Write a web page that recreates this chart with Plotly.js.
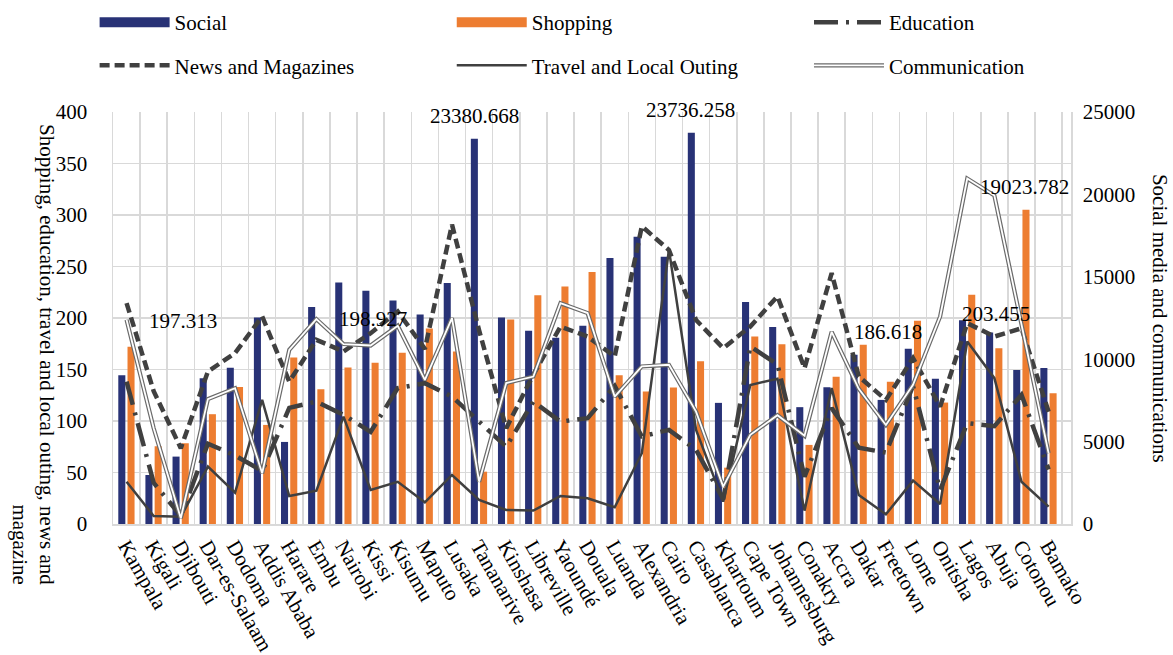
<!DOCTYPE html>
<html>
<head>
<meta charset="utf-8">
<script src="https://cdn.plot.ly/plotly-3.0.1.min.js"></script>
<style>html,body{margin:0;padding:0;background:#fff}#chart{width:1173px;height:655px}</style>
</head>
<body>
<div id="chart"></div>
<script>
const cities = ["Kampala","Kigali","Djibouti","Dar-es-Salaam","Dodoma","Addis Ababa","Harare","Embu","Nairobi","Kissi","Kisumu","Maputo","Lusaka","Tananarive","Kinshasa","Libreville","Yaoundé","Douala","Luanda","Alexandria","Cairo","Casablanca","Khartoum","Cape Town","Johannesburg","Conakry","Accra","Dakar","Freetown","Lome","Onitsha","Lagos","Abuja","Cotonou","Bamako"];

// right axis (Social media and communications)
const social = [9030, 2975, 4090, 8850, 9475, 12530, 4980, 13160, 14660, 14150, 13560, 12710, 14620, 23380.668, 12530, 11720, 11300, 12030, 16140, 17430, 16220, 23736.258, 7350, 13470, 11950, 7090, 8300, 10270, 7530, 10630, 8810, 12370, 11620, 9350, 9460];
const communication = [12390, 5810, 350, 7580, 8240, 3080, 10570, 12430, 10920, 10830, 12030, 8750, 12490, 2570, 8550, 8950, 13400, 12800, 7730, 9560, 9660, 6820, 2270, 5410, 6600, 5350, 11660, 8200, 6010, 8450, 12590, 20960, 19930, 12200, 4290];

// left axis
const shopping = [172, 75.5, 78.4, 106.6, 133.1, 96.2, 161.6, 130.9, 151.9, 156.5, 166.2, 189.8, 167.4, 50.8, 198.5, 222.2, 230.6, 244.6, 144.5, 128.6, 132.5, 158.1, 54.7, 182, 174.6, 76.8, 142.9, 174, 138, 197.3, 117.9, 222.5, 170.7, 305.2, 127];
const education = [138.3, 40, 7.8, 78, 66.5, 51.5, 112.7, 118.9, 106, 89.4, 131.9, 136.7, 123.7, 99.4, 75, 118.9, 99.4, 102.7, 134, 85, 91.4, 72, 24, 172.3, 155, 46, 112.5, 74, 69.3, 134, 33, 97.9, 95, 125.4, 53];
const news = [214.5, 129, 73.6, 148, 166, 201.5, 138.3, 178.8, 167.5, 185.3, 206.3, 170, 290.6, 188, 93, 145, 191.7, 182, 162.6, 289, 266, 198, 170.7, 191.7, 221, 151.3, 243.6, 143.2, 120.5, 161, 114, 195, 182, 190, 109];
const travel = [41, 7.8, 7.1, 55.7, 30.4, 120.5, 27.2, 32.4, 104.3, 33, 41, 21, 47.6, 23.3, 13.6, 13, 27.2, 25, 16.2, 68.7, 266.3, 91.4, 21.7, 135, 141, 13, 131.9, 28.2, 9.4, 42.1, 19.4, 177.2, 141.6, 41, 16.8];

// data labels shown on the chart
const labelTexts = ["23380.668", "23736.258", "19023.782", "197.313", "198.927", "186.618", "203.455"];
const labelCities = ["Tananarive", "Casablanca", "Cotonou", "Djibouti", "Kissi", "Freetown", "Abuja"];
const labelValues = [23380.668, 23736.258, 19023.782, 197.313, 198.927, 186.618, 203.455];
const labelAxes = ["y", "y", "y", "y2", "y2", "y2", "y2"];

const FONT = "Liberation Serif, Times New Roman, serif";
const FS = 21;
const DARK = "#404040";
const NAVY = "#283276";
const ORANGE = "#ED7D31";

const traces = [
  {type: "bar", name: "Social", x: cities, y: social, yaxis: "y",
   marker: {color: NAVY}, width: 0.26, offset: -0.305, showlegend: false},
  {type: "bar", name: "Shopping", x: cities, y: shopping, yaxis: "y2",
   marker: {color: ORANGE}, width: 0.26, offset: 0.035, showlegend: false},
  {type: "scatter", mode: "lines", name: "Education", x: cities, y: education, yaxis: "y2",
   line: {color: DARK, width: 4.5, dash: "24px,8px,3px,8px"}, legend: "legend3"},
  {type: "scatter", mode: "lines", name: "News and Magazines", x: cities, y: news, yaxis: "y2",
   line: {color: DARK, width: 4.5, dash: "10px,5px"}, legend: "legend4"},
  {type: "scatter", mode: "lines", name: "Travel and Local Outing", x: cities, y: travel, yaxis: "y2",
   line: {color: DARK, width: 2.5}, legend: "legend5"},
  {type: "scatter", mode: "lines", name: "Communication", x: cities, y: communication, yaxis: "y3",
   line: {color: "#6a6a6a", width: 4.2}, legend: "legend6"},
  {type: "scatter", mode: "lines", name: "Communication", x: cities, y: communication, yaxis: "y3",
   line: {color: "#ffffff", width: 1.8}, showlegend: false, hoverinfo: "skip"},
  // legend keys (wide swatches, as in the original)
  {type: "scatter", mode: "lines", name: "Social", x: [null], y: [null], yaxis: "y",
   line: {color: NAVY, width: 11}, legend: "legend", hoverinfo: "skip"},
  {type: "scatter", mode: "lines", name: "Shopping", x: [null], y: [null], yaxis: "y2",
   line: {color: ORANGE, width: 11}, legend: "legend2", hoverinfo: "skip"},
  {type: "scatter", mode: "lines", name: " ", x: [null], y: [null], yaxis: "y3",
   line: {color: "#ffffff", width: 1.8}, legend: "legend7", hoverinfo: "skip"}
];

const annotations = labelTexts.map((t, i) => ({
  text: t, x: labelCities[i], y: labelValues[i], xref: "x", yref: labelAxes[i],
  showarrow: false, font: {family: FONT, size: FS, color: "#000"},
  xanchor: "center", yanchor: "middle",
  yshift: labelAxes[i] === "y" ? 23 : 0,
  xshift: i === 0 ? -5 : (i === 1 ? -6 : (i === 2 ? 3 : 2))
}));
annotations.push({
  text: "Shopping, education, travel and local outing, news and<br>magazine",
  xref: "paper", yref: "paper", x: -0.0825, y: 0.41, textangle: 90, align: "right",
  showarrow: false, xanchor: "center", yanchor: "middle",
  font: {family: FONT, size: FS, color: "#000"}
});
annotations.push({
  text: "Social media and communications",
  xref: "paper", yref: "paper", x: 1.093, y: 0.5, textangle: 90,
  showarrow: false, xanchor: "center", yanchor: "middle",
  font: {family: FONT, size: FS, color: "#000"}
});

function leg(x, y) {
  return {orientation: "h", x: x, y: y, xanchor: "left", yanchor: "middle",
          itemwidth: 70, font: {family: FONT, size: FS, color: "#000"},
          bgcolor: "rgba(0,0,0,0)", borderwidth: 0};
}
const colX = [-0.0192, 0.3536, 0.7265];
const rowY = [1.2169, 1.1124];

const tickFont = {family: FONT, size: FS, color: "#000"};
const layout = {
  width: 1173, height: 655,
  margin: {l: 113, r: 102, t: 112, b: 131, autoexpand: false},
  paper_bgcolor: "#fff", plot_bgcolor: "#fff",
  font: {family: FONT, size: FS, color: "#000"},
  barmode: "overlay",
  xaxis: {type: "category", tickson: "boundaries", showgrid: true, gridcolor: "#d9d9d9", gridwidth: 1.5,
          showline: true, linecolor: "#d9d9d9", linewidth: 1.5, ticks: "", tickangle: 60,
          tickfont: tickFont, automargin: false},
  yaxis: {side: "right", range: [0, 25000], dtick: 5000, tickformat: "d", showgrid: false, zeroline: false,
          showline: true, linecolor: "#d9d9d9", linewidth: 1.5, ticks: "", ticklabelstandoff: 6,
          tickfont: tickFont, automargin: false},
  yaxis2: {side: "left", overlaying: "y", range: [0, 400], dtick: 50, showgrid: true,
           gridcolor: "#d9d9d9", gridwidth: 1.5, zeroline: false,
           showline: true, linecolor: "#d9d9d9", linewidth: 1.5, ticks: "", ticklabelstandoff: 20,
           tickfont: tickFont, automargin: false},
  yaxis3: {overlaying: "y", side: "right", range: [0, 25000], visible: false},
  legend: leg(colX[0], rowY[0]),
  legend2: leg(colX[1], rowY[0]),
  legend3: leg(colX[2], rowY[0]),
  legend4: leg(colX[0], rowY[1]),
  legend5: leg(colX[1], rowY[1]),
  legend6: leg(colX[2], rowY[1]),
  legend7: leg(colX[2], rowY[1]),
  annotations: annotations,
  showlegend: true
};

Plotly.newPlot("chart", traces, layout, {displayModeBar: false, staticPlot: true});
</script>
</body>
</html>
